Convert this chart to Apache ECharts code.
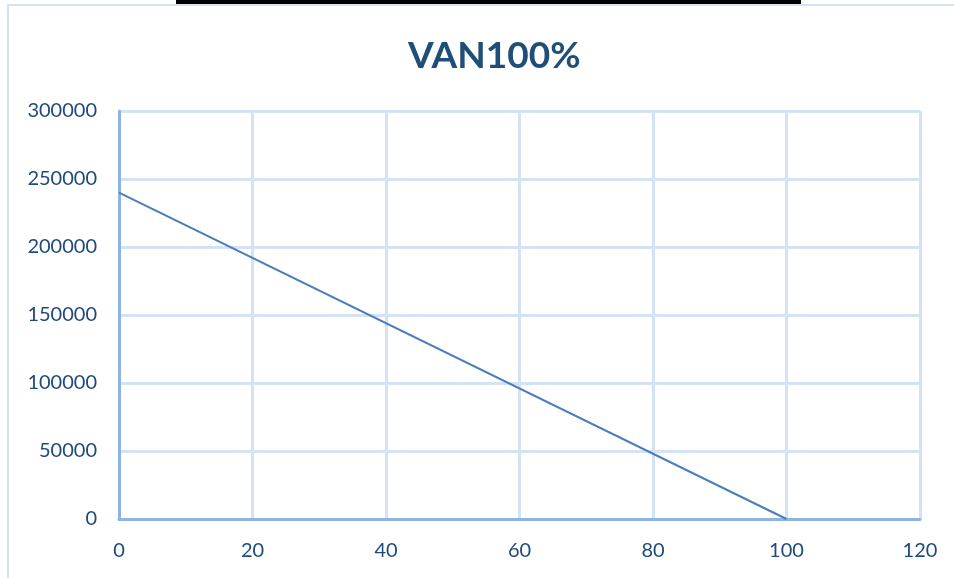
<!DOCTYPE html>
<html><head><meta charset="utf-8">
<script src="https://cdn.jsdelivr.net/npm/echarts@6/dist/echarts.min.js"></script>
<style>html,body{margin:0;padding:0;background:#fff}#c{width:954px;height:578px}</style>
</head><body><div id="c"></div>
<script>
const titleText = 'VAN100%';
const xValues = [0, 100];
const yValues = [240000, 0];
const xTicks = [0, 20, 40, 60, 80, 100, 120];
const yTicks = [0, 50000, 100000, 150000, 200000, 250000, 300000];

const chart = echarts.init(document.getElementById('c'));
const txt = '#1f4a7d';
chart.setOption({
  animation: false,
  backgroundColor: '#fff',
  title: { text: titleText, left: 403, top: 33,
    textStyle: { fontFamily: 'Lato', fontWeight: 'bold', fontSize: 37, color: '#1f4e79' } },
  grid: { left: 119, top: 111, right: 34, bottom: 59 },
  xAxis: { type: 'value', min: xTicks[0], max: xTicks[xTicks.length - 1], interval: 20,
    axisLine: { show: true, onZero: false, lineStyle: { color: '#8eb4e3', width: 3 } },
    axisTick: { show: false },
    splitLine: { show: true, lineStyle: { color: '#d3e2f4', width: 3 } },
    axisLabel: { color: txt, fontFamily: 'Lato', fontSize: 20, margin: 22, formatter: v => String(v) } },
  yAxis: { type: 'value', min: yTicks[0], max: yTicks[yTicks.length - 1], interval: 50000,
    axisLine: { show: true, lineStyle: { color: '#8eb4e3', width: 3 } },
    axisTick: { show: false },
    splitLine: { show: true, lineStyle: { color: '#d3e2f4', width: 3 } },
    axisLabel: { color: txt, fontFamily: 'Lato', fontSize: 20, margin: 22, formatter: v => String(v) } },
  series: [{ type: 'line', data: xValues.map((x, i) => [x, yValues[i]]),
    showSymbol: false, lineStyle: { color: '#4a7ebb', width: 2 } }],
  graphic: [
    { type: 'polyline', shape: { points: [[8, 578], [8, 5], [954, 5]] },
      style: { stroke: '#d3e2f4', lineWidth: 2, fill: null } },
    { type: 'rect', shape: { x: 176, y: 0, width: 625, height: 4 }, style: { fill: '#000' } }
  ]
});
</script></body></html>
